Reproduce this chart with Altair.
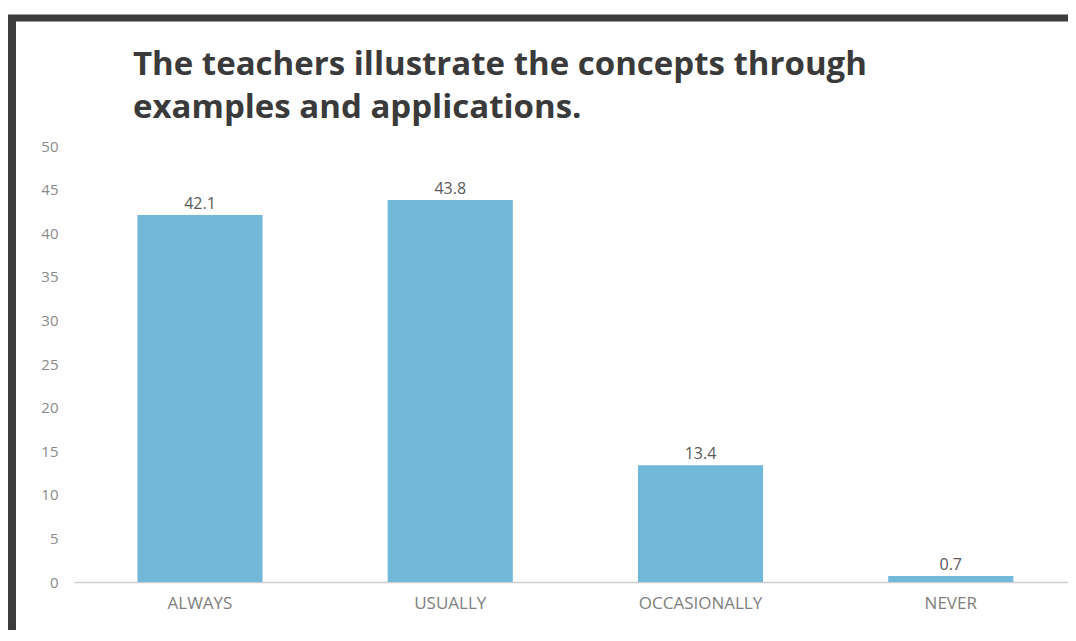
import altair as alt
import pandas as pd

categories = ["ALWAYS", "USUALLY", "OCCASIONALLY", "NEVER"]
values = [42.1, 43.8, 13.4, 0.7]
title_lines = ["The teachers illustrate the concepts through", "examples and applications."]
y_ticks = [0, 5, 10, 15, 20, 25, 30, 35, 40, 45, 50]

df = pd.DataFrame({"category": categories, "value": values})
frame = pd.DataFrame({"k": [0]})

W, H = 994, 436
FONT = "Open Sans"

x_enc = alt.X(
    "category:N",
    sort=categories,
    scale=alt.Scale(paddingInner=0.5, paddingOuter=0.236, align=0.537),
    axis=alt.Axis(
        title=None, labelAngle=0, ticks=False, domain=True, domainColor="#cfcfcf",
        domainWidth=1.5, labelColor="#808080", labelFontSize=17, labelFont=FONT,
        labelPadding=13,
    ),
)
y_enc = alt.Y(
    "value:Q",
    scale=alt.Scale(domain=[0, 50], nice=False),
    axis=alt.Axis(
        title=None, values=y_ticks, grid=False, domain=False, ticks=False,
        labelColor="#8a8a8a", labelFontSize=15, labelFont=FONT, labelPadding=16,
    ),
)

base = alt.Chart(df)
bars = base.mark_bar(color="#72b8d8").encode(x=x_enc, y=y_enc)
labels = base.mark_text(dy=-11, fontSize=16, font=FONT, color="#5a5a5a").encode(
    x=alt.X("category:N", sort=categories),
    y="value:Q",
    text=alt.Text("value:Q", format=".1f"),
)

title = alt.Chart(pd.DataFrame({"t": [title_lines]})).mark_text(
    align="left", baseline="alphabetic", font=FONT, fontSize=33, fontWeight="bold",
    color="#3a3a3a", lineHeight=43,
).encode(x=alt.value(59), y=alt.value(-71), text="t")

frame_color = "#3c3c3c"
left_rule = alt.Chart(frame).mark_rule(color=frame_color, strokeWidth=8).encode(
    x=alt.value(-62), y=alt.value(-128), y2=alt.value(H + 60)
)
top_rule = alt.Chart(frame).mark_rule(color=frame_color, strokeWidth=7).encode(
    x=alt.value(-66), x2=alt.value(W + 10), y=alt.value(-128)
)

chart = alt.layer(bars, labels, title, left_rule, top_rule).properties(
    width=W, height=H,
    background="white",
    autosize=alt.AutoSizeParams(type="none"),
    padding={"left": 66, "top": 138, "right": 0, "bottom": 48},
).configure_view(stroke=None, strokeWidth=0)

chart.save("out.html", embed_options={"renderer": "svg", "actions": False})
